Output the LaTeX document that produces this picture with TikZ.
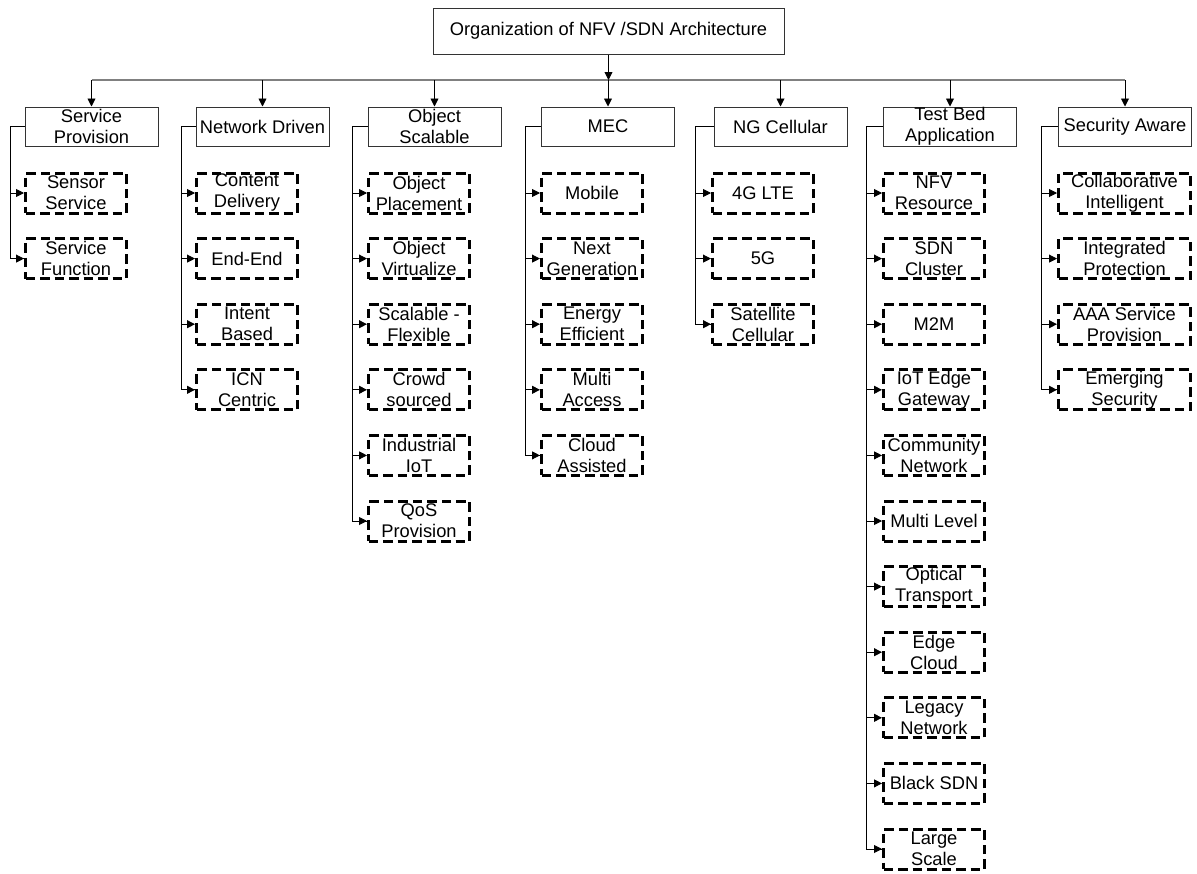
\documentclass[tikz,border=0pt]{standalone}
\usepackage{fontspec}
\setmainfont{Liberation Sans}
\usetikzlibrary{arrows.meta}

\begin{document}
\begin{tikzpicture}[x=1pt,y=-1pt,
  txt/.style={font=\fontsize{18.3}{21}\selectfont, align=center, inner sep=0pt},
  rootbox/.style={txt, draw=black!80, line width=1pt, minimum width=351pt, minimum height=46pt},
  catbox/.style={txt, draw=black!80, line width=1pt, minimum width=133pt, minimum height=39pt},
  leafbox/.style={txt, draw=black, line width=3pt, dash pattern=on 9.5pt off 5pt,
                  minimum width=101pt, minimum height=40pt, anchor=west},
  wideleaf/.style={leafbox, minimum width=132pt},
  link/.style={draw=black, line width=0.9pt},
  buslink/.style={draw=black!50, line width=1.6pt},
  arr/.style={link, -{Triangle[length=8pt,width=8pt]}},
]
\useasboundingbox (0,0) rectangle (1197,873);

% root
\node[rootbox] (root) at (608.5,31) {Organization of NFV /SDN Architecture};

% categories
\node[catbox] (c1) at (91.5,126.5)  {Service\\Provision};
\node[catbox] (c2) at (262.5,126.5) {Network Driven};
\node[catbox] (c3) at (434.5,126.5) {Object\\Scalable};
\node[catbox] (c4) at (608,126.5)   {MEC};
\node[catbox] (c5) at (780.5,126.5) {NG Cellular};
\node[catbox] (c6) at (950,126.5)   {Test Bed\\Application};
\node[catbox] (c7) at (1125,126.5)  {Security Aware};

% bus
\coordinate (busL) at (91.5,80);
\coordinate (busR) at (1125,80);
\draw[buslink] (busL) -- (busR);
\draw[arr] (root.south) -- (root.south |- busL);
\foreach \c in {c1,c2,c3,c4,c5,c6,c7}
  \draw[arr] (\c.north |- busL) -- (\c.north);

% column 1
\node[leafbox] (k11) at (24,193)    {Sensor\\Service};
\node[leafbox] (k12) at (24,258.6)  {Service\\Function};

% column 2
\node[leafbox] (k21) at (195,193)   {Content\\Delivery};
\node[leafbox] (k22) at (195,258.6) {End-End};
\node[leafbox] (k23) at (195,324.2) {Intent\\Based};
\node[leafbox] (k24) at (195,389.8) {ICN\\Centric};

% column 3
\node[leafbox] (k31) at (367,193)   {Object\\Placement};
\node[leafbox] (k32) at (367,258.6) {Object\\Virtualize};
\node[leafbox] (k33) at (367,324.2) {Scalable -\\Flexible};
\node[leafbox] (k34) at (367,389.8) {Crowd\\sourced};
\node[leafbox] (k35) at (367,455.4) {Industrial\\IoT};
\node[leafbox] (k36) at (367,521)   {QoS\\Provision};

% column 4
\node[leafbox] (k41) at (540,193)   {Mobile};
\node[leafbox] (k42) at (540,258.6) {Next\\Generation};
\node[leafbox] (k43) at (540,324.2) {Energy\\Efficient};
\node[leafbox] (k44) at (540,389.8) {Multi\\Access};
\node[leafbox] (k45) at (540,455.4) {Cloud\\Assisted};

% column 5
\node[leafbox] (k51) at (711,193)   {4G LTE};
\node[leafbox] (k52) at (711,258.6) {5G};
\node[leafbox] (k53) at (711,324.2) {Satellite\\Cellular};

% column 6
\node[leafbox] (k61) at (882,193)   {NFV\\Resource};
\node[leafbox] (k62) at (882,258.6) {SDN\\Cluster};
\node[leafbox] (k63) at (882,324.2) {M2M};
\node[leafbox] (k64) at (882,389.8) {IoT Edge\\Gateway};
\node[leafbox] (k65) at (882,455.4) {Community\\Network};
\node[leafbox] (k66) at (882,521)   {Multi Level};
\node[leafbox] (k67) at (882,586.6) {Optical\\Transport};
\node[leafbox] (k68) at (882,652.2) {Edge\\Cloud};
\node[leafbox] (k69) at (882,717.8) {Legacy\\Network};
\node[leafbox] (k6a) at (882,783.4) {Black SDN};
\node[leafbox] (k6b) at (882,849)   {Large\\Scale};

% column 7
\node[wideleaf] (k71) at (1057,193)   {Collaborative\\Intelligent};
\node[wideleaf] (k72) at (1057,258.6) {Integrated\\Protection};
\node[wideleaf] (k73) at (1057,324.2) {AAA Service\\Provision};
\node[wideleaf] (k74) at (1057,389.8) {Emerging\\Security};

% brackets from each category down to its items
\draw[link] (c1.west) -- ++(-14,0) coordinate (b1) |- (k12.west);
\draw[link] (c2.west) -- ++(-14,0) coordinate (b2) |- (k24.west);
\draw[link] (c3.west) -- ++(-15,0) coordinate (b3) |- (k36.west);
\draw[link] (c4.west) -- ++(-16,0) coordinate (b4) |- (k45.west);
\draw[link] (c5.west) -- ++(-18,0) coordinate (b5) |- (k53.west);
\draw[link] (c6.west) -- ++(-17,0) coordinate (b6) |- (k6b.west);
\draw[link] (c7.west) -- ++(-17,0) coordinate (b7) |- (k74.west);

\foreach \k in {k11,k12} \draw[arr] (b1 |- \k.west) -- (\k.west);
\foreach \k in {k21,k22,k23,k24} \draw[arr] (b2 |- \k.west) -- (\k.west);
\foreach \k in {k31,k32,k33,k34,k35,k36} \draw[arr] (b3 |- \k.west) -- (\k.west);
\foreach \k in {k41,k42,k43,k44,k45} \draw[arr] (b4 |- \k.west) -- (\k.west);
\foreach \k in {k51,k52,k53} \draw[arr] (b5 |- \k.west) -- (\k.west);
\foreach \k in {k61,k62,k63,k64,k65,k66,k67,k68,k69,k6a,k6b} \draw[arr] (b6 |- \k.west) -- (\k.west);
\foreach \k in {k71,k72,k73,k74} \draw[arr] (b7 |- \k.west) -- (\k.west);
\end{tikzpicture}
\end{document}
